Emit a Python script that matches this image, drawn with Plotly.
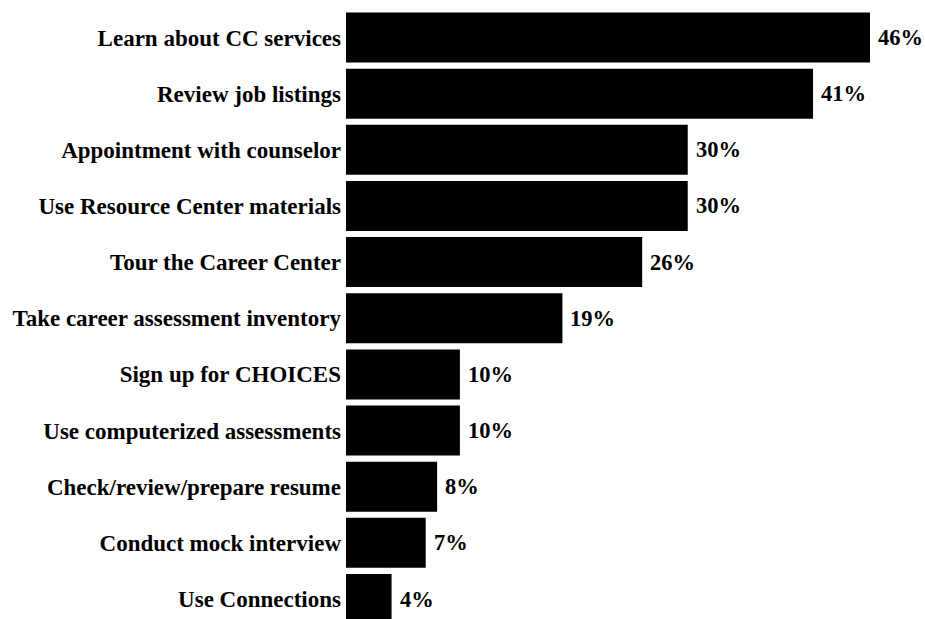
import plotly.graph_objects as go

activities = [
    "Learn about CC services",
    "Review job listings",
    "Appointment with counselor",
    "Use Resource Center materials",
    "Tour the Career Center",
    "Take career assessment inventory",
    "Sign up for CHOICES",
    "Use computerized assessments",
    "Check/review/prepare resume",
    "Conduct mock interview",
    "Use Connections",
]
percentages = [46, 41, 30, 30, 26, 19, 10, 10, 8, 7, 4]
value_labels = [f"{p}%" for p in percentages]

label_font = dict(family="Liberation Serif", size=22.5, color="black")

fig = go.Figure(
    go.Bar(
        x=percentages,
        y=activities,
        orientation="h",
        marker=dict(color="black", line=dict(width=0)),
        width=0.89,
        hoverinfo="skip",
    )
)

for act, p, lab in zip(activities, percentages, value_labels):
    fig.add_annotation(
        x=p, y=act, text=f"<b>{lab}</b>", showarrow=False,
        xanchor="left", xshift=6, font=label_font,
    )

fig.update_layout(
    width=925, height=619,
    margin=dict(l=346, r=0, t=0, b=0),
    paper_bgcolor="white", plot_bgcolor="white",
    showlegend=False,
    xaxis=dict(range=[0, 50.83], visible=False, fixedrange=True),
    yaxis=dict(
        type="category",
        categoryorder="array",
        categoryarray=activities,
        range=[10.356, -0.668],
        showgrid=False, zeroline=False, showline=False,
        ticks="",
        ticklabelstandoff=4,
        tickfont=dict(family="Liberation Serif", size=23, color="black", weight="bold"),
    ),
)

fig.write_html("out.html")
